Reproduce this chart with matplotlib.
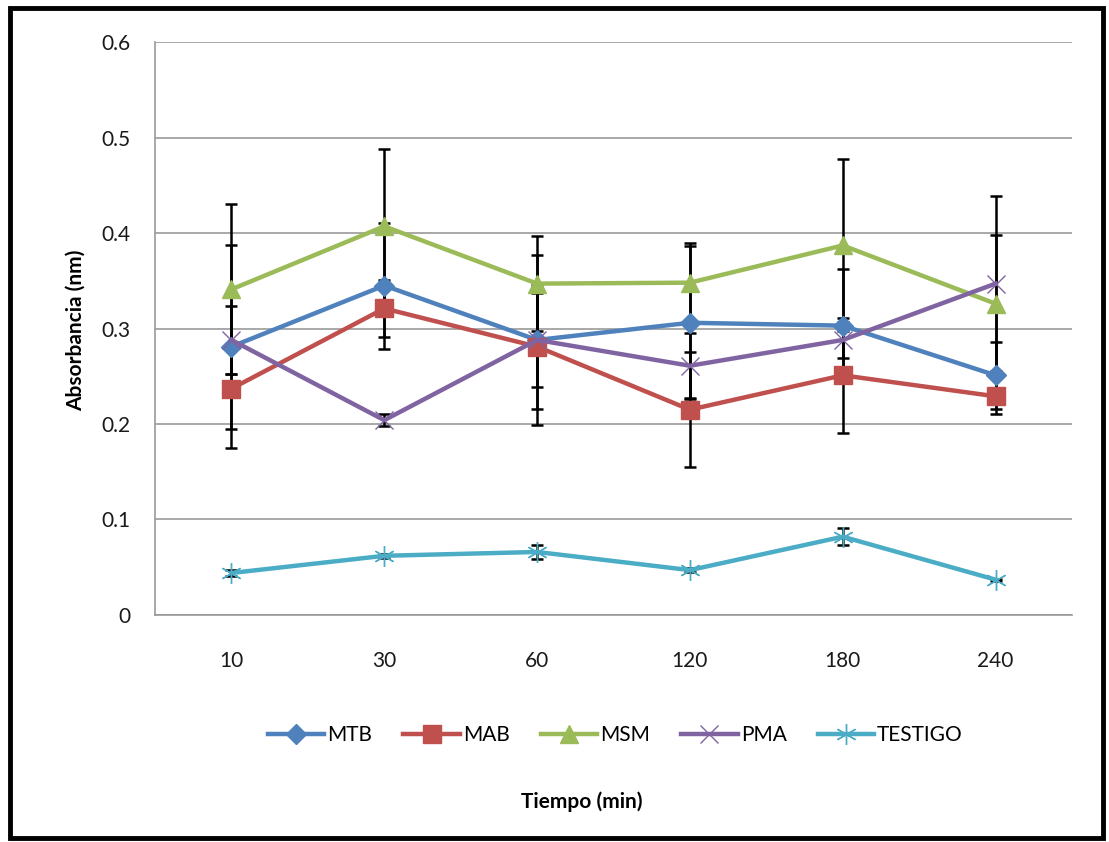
import numpy as np
import matplotlib.pyplot as plt
from matplotlib.patches import Rectangle

plt.rcParams["font.family"] = ["Lato", "DejaVu Sans"]

# Datos
tiempos = ["10", "30", "60", "120", "180", "240"]

mtb = [0.281, 0.345, 0.288, 0.306, 0.303, 0.251]
mab = [0.237, 0.321, 0.281, 0.215, 0.251, 0.229]
msm = [0.341, 0.407, 0.347, 0.348, 0.387, 0.326]
pma = [0.288, 0.204, 0.288, 0.261, 0.288, 0.347]
testigo = [0.044, 0.062, 0.066, 0.047, 0.082, 0.037]

err_mtb = [0.106, 0.066, 0.089, 0.080, 0.059, 0.035]
err_mab = [0.042, 0.030, 0.065, 0.060, 0.060, 0.019]
err_msm = [0.089, 0.081, 0.050, 0.042, 0.090, 0.072]
err_pma = [0.036, 0.006, 0.049, 0.034, 0.019, 0.092]
err_testigo = [0.003, 0.002, 0.007, 0.002, 0.009, 0.001]

series = [
    ("MTB", mtb, err_mtb, "#4F81BD", "D", 10.5),
    ("MAB", mab, err_mab, "#C0504D", "s", 13),
    ("MSM", msm, err_msm, "#9BBB59", "^", 13),
    ("PMA", pma, err_pma, "#8064A2", "x", 13),
    ("TESTIGO", testigo, err_testigo, "#4BACC6", (6, 2, 0), 15),
]

fig = plt.figure(figsize=(11.09, 8.42), dpi=100)
ax = fig.add_axes([0.1398, 0.2696, 0.8268, 0.6805])

x = np.arange(len(tiempos))

# barras de error primero, debajo de las líneas
for nombre, vals, errs, color, mk, ms in series:
    ax.errorbar(x, vals, yerr=errs, fmt="none", ecolor="black",
                elinewidth=1.8, capsize=4.5, capthick=1.8, zorder=2)

for nombre, vals, errs, color, mk, ms in series:
    ax.plot(x, vals, color=color, lw=3.2, marker=mk, markersize=ms,
            markeredgecolor=color, markerfacecolor=color,
            markeredgewidth=1, label=nombre, zorder=3)

ax.set_xlim(-0.5, len(tiempos) - 0.5)
ax.set_ylim(0, 0.6)
ax.set_yticks(np.arange(0, 0.61, 0.1))
ax.set_yticklabels(["0", "0.1", "0.2", "0.3", "0.4", "0.5", "0.6"])
ax.set_xticks(x)
ax.set_xticklabels(tiempos)
ax.tick_params(axis="both", length=0, labelsize=15, colors="#1a1a1a")
ax.tick_params(axis="x", pad=26)
ax.tick_params(axis="y", pad=18)

ax.grid(axis="y", color="#999999", lw=1.2)
ax.set_axisbelow(True)
for lado in ["top", "right"]:
    ax.spines[lado].set_visible(False)
ax.spines["left"].set_color("#999999")
ax.spines["bottom"].set_color("#999999")
ax.spines["left"].set_linewidth(1.2)
ax.spines["bottom"].set_linewidth(1.2)

fig.legend(loc="center", bbox_to_anchor=(0.555, 0.127), ncol=5,
           frameon=False, fontsize=15, handlelength=2.7,
           handletextpad=0.15, columnspacing=1.5)

fig.text(0.525, 0.048, "Tiempo (min)", ha="center", va="center",
         fontsize=15, fontweight="bold")
fig.text(0.068, 0.608, "Absorbancia (nm)", ha="center", va="center",
         rotation=90, fontsize=15, fontweight="bold")

# marco del gráfico
fig.patches.append(Rectangle((0.009, 0.005), 0.986, 0.986,
                             transform=fig.transFigure, fill=False,
                             edgecolor="black", lw=3.5))

fig.savefig("out.png", dpi=100)
